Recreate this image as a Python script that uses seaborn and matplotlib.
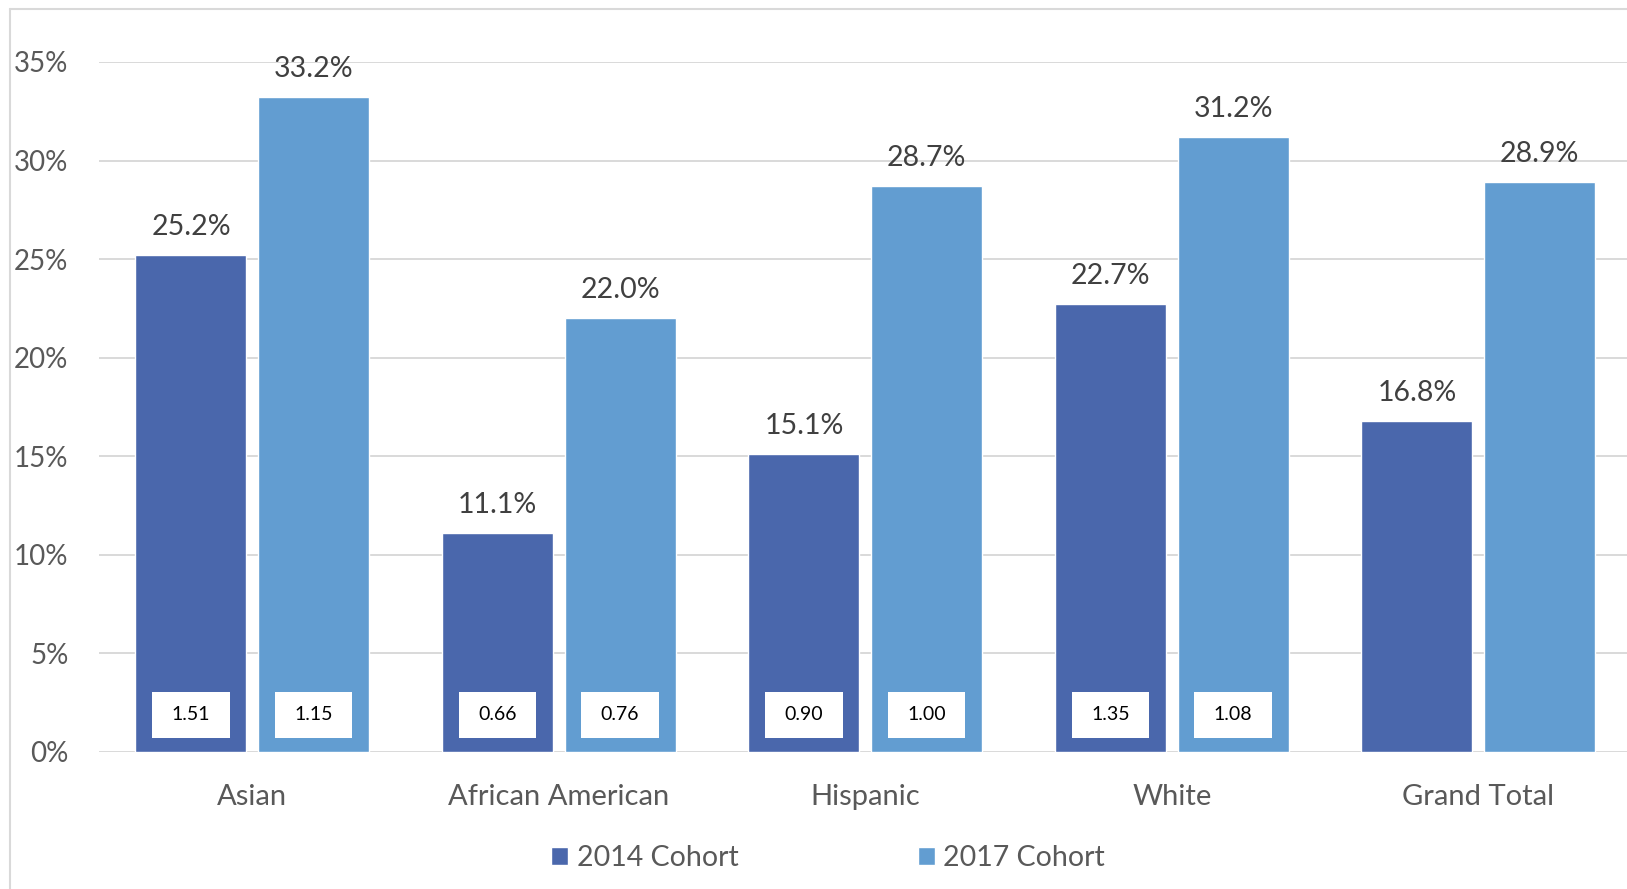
import numpy as np
import pandas as pd
import matplotlib
matplotlib.use("Agg")
import matplotlib.pyplot as plt
import seaborn as sns
from matplotlib.patches import Rectangle
from matplotlib.lines import Line2D

# ---- data ----
groups = ["Asian", "African American", "Hispanic", "White", "Grand Total"]
cohorts = ["2014 Cohort", "2017 Cohort"]
rate_2014 = [25.2, 11.1, 15.1, 22.7, 16.8]
rate_2017 = [33.2, 22.0, 28.7, 31.2, 28.9]
ratio_2014 = ["1.51", "0.66", "0.90", "1.35", None]
ratio_2017 = ["1.15", "0.76", "1.00", "1.08", None]
y_ticks = [0, 5, 10, 15, 20, 25, 30, 35]
colors = ["#4A67AC", "#629DD1"]

df = pd.DataFrame({
    "Group": groups * 2,
    "Cohort": [cohorts[0]] * len(groups) + [cohorts[1]] * len(groups),
    "Rate": rate_2014 + rate_2017,
})

sns.set_theme(style="white")
plt.rcParams["font.family"] = ["Lato", "DejaVu Sans"]

W, H = 1627, 889
fig = plt.figure(figsize=(W / 100, H / 100), dpi=100)
ax = fig.add_axes([99 / W, 137 / H, 5 * 306.5 / W, 690 / H])

sns.barplot(data=df, x="Group", y="Rate", hue="Cohort", palette=colors,
            width=0.8, gap=0.095, saturation=1, errorbar=None, ax=ax, zorder=2)

ax.set_xlim(-0.5, 4.5)
ax.set_ylim(0, 35)
ax.set_yticks(y_ticks)
ax.set_yticklabels([f"{t}%" for t in y_ticks])
ax.yaxis.grid(True, color="#D9D9D9", lw=1.4)
ax.set_axisbelow(True)
sns.despine(ax=ax, left=True, bottom=True)
ax.tick_params(axis="y", length=0, pad=22, labelsize=20, labelcolor="#595959")
ax.tick_params(axis="x", length=0, pad=23, labelsize=21, labelcolor="#595959")
ax.set_xlabel("")
ax.set_ylabel("")

# value labels and ratio boxes
for container, rates, ratios in zip(ax.containers, [rate_2014, rate_2017], [ratio_2014, ratio_2017]):
    for bar, v, r in zip(container, rates, ratios):
        cx = bar.get_x() + bar.get_width() / 2
        ax.annotate(f"{v:.1f}%", xy=(cx, bar.get_height()), xytext=(0, 14.4),
                    textcoords="offset points", ha="center", va="baseline",
                    fontsize=20.5, color="#404040", annotation_clip=False)
        if r:
            ax.add_patch(Rectangle((cx - 0.127, 1.9 - 1.165), 0.254, 2.33,
                                   facecolor="white", edgecolor="none", zorder=3))
            ax.text(cx, 1.9, r, ha="center", va="center", fontsize=14,
                    color="black", zorder=4)

# legend
sns.move_legend(ax, "center", bbox_to_anchor=(828 / W, 31 / H),
                bbox_transform=fig.transFigure, ncol=2, frameon=False, title=None,
                handlelength=0.6, handleheight=0.6, handletextpad=0.3,
                columnspacing=6.3, fontsize=20.5, labelcolor="#595959")

# chart-area frame (left and top edges)
fig.add_artist(Line2D([10 / W, 10 / W], [0, 1 - 9 / H], color="#D9D9D9", lw=1.5,
                      transform=fig.transFigure))
fig.add_artist(Line2D([10 / W, 1], [1 - 9 / H, 1 - 9 / H], color="#D9D9D9", lw=1.5,
                      transform=fig.transFigure))

fig.savefig("out.png", dpi=100)
